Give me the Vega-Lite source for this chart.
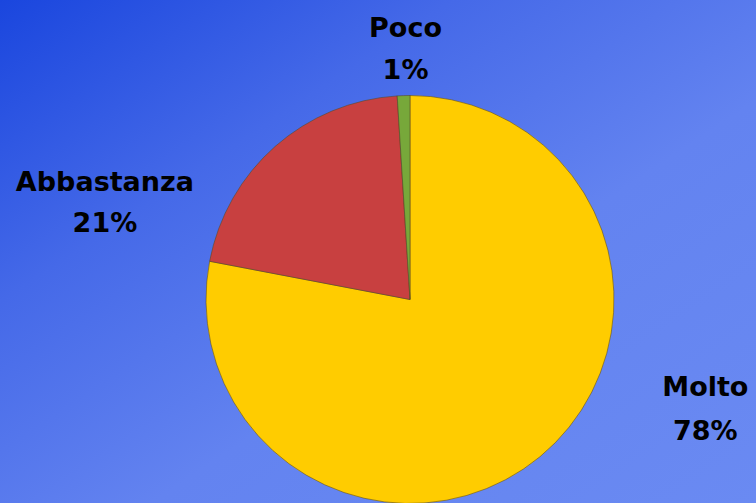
{
  "$schema": "https://vega.github.io/schema/vega-lite/v6.json",
  "width": 756,
  "height": 503,
  "autosize": "none",
  "padding": 0,
  "background": "#4f73ea",
  "view": {
    "stroke": null,
    "fill": {
      "gradient": "linear", "x1": 0, "y1": 0, "x2": 1, "y2": 1,
      "stops": [
        {"offset": 0, "color": "#1a46de"},
        {"offset": 0.3, "color": "#4569e8"},
        {"offset": 0.6, "color": "#6383f0"},
        {"offset": 1, "color": "#6a8af2"}
      ]
    }
  },
  "data": {
    "values": [
      {"categoria": "Molto", "percentuale": 78},
      {"categoria": "Abbastanza", "percentuale": 21},
      {"categoria": "Poco", "percentuale": 1}
    ]
  },
  "encoding": {
    "theta": {"field": "percentuale", "type": "quantitative", "stack": true, "scale": {"domain": [0, 100]}},
    "order": {"field": "percentuale", "sort": "descending"}
  },
  "layer": [
    {
      "mark": {"type": "arc", "x": {"expr": "width/2 + 32"}, "y": {"expr": "height/2 + 48"}, "outerRadius": 204, "stroke": "#5a4a20", "strokeWidth": 0.8, "strokeOpacity": 0.7},
      "encoding": {
        "color": {
          "field": "categoria", "type": "nominal", "legend": null,
          "scale": {"domain": ["Molto", "Abbastanza", "Poco"], "range": ["#FFCC00", "#C84040", "#77A83A"]}
        }
      }
    },
    {
      "transform": [{"filter": "datum.categoria === 'Poco'"}],
      "mark": {"type": "text", "x": {"expr": "width/2 + 32"}, "y": {"expr": "height/2 + 48"}, "radius": 271, "dx": -13, "dy": 0, "font": "DejaVu Sans", "fontWeight": "bold", "fontSize": 27, "lineHeight": 42, "color": "black", "baseline": "middle", "align": "center"},
      "encoding": {"text": {"value": ["Poco", "1%"]}}
    },
    {
      "transform": [{"filter": "datum.categoria === 'Abbastanza'"}],
      "mark": {"type": "text", "x": {"expr": "width/2 + 32"}, "y": {"expr": "height/2 + 48"}, "radius": 150, "dx": -397, "dy": 2, "font": "DejaVu Sans", "fontWeight": "bold", "fontSize": 27, "lineHeight": 41, "color": "black", "baseline": "middle", "align": "center"},
      "encoding": {"text": {"value": ["Abbastanza", "21%"]}}
    },
    {
      "transform": [{"filter": "datum.categoria === 'Molto'"}],
      "mark": {"type": "text", "x": {"expr": "width/2 + 32"}, "y": {"expr": "height/2 + 48"}, "radius": 250, "dx": 136, "dy": -104, "font": "DejaVu Sans", "fontWeight": "bold", "fontSize": 27, "lineHeight": 44, "color": "black", "baseline": "middle", "align": "center"},
      "encoding": {"text": {"value": ["Molto", "78%"]}}
    }
  ]
}
